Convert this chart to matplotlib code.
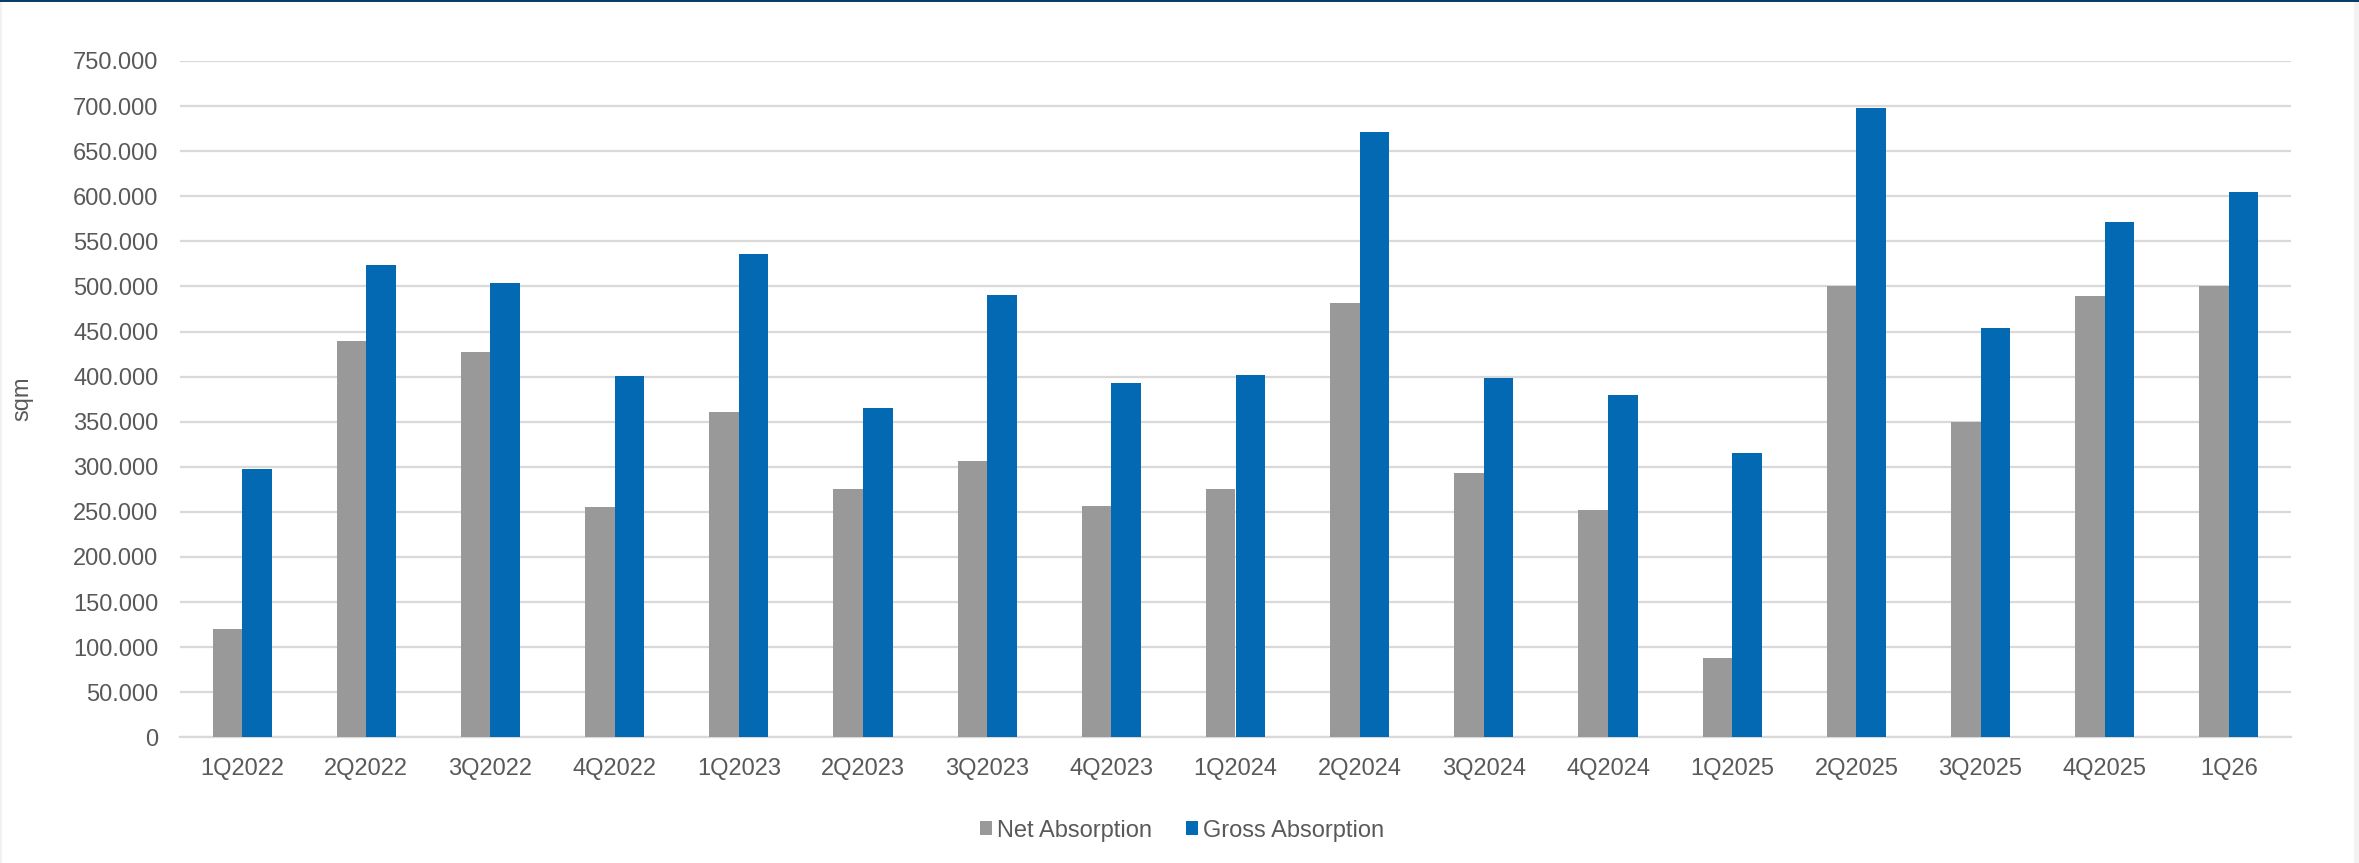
import matplotlib
matplotlib.use("Agg")
import matplotlib.pyplot as plt
from matplotlib.patches import Rectangle
from matplotlib.ticker import FuncFormatter, MultipleLocator
import numpy as np

plt.rcParams['font.family'] = ['Liberation Sans', 'DejaVu Sans']

# quarterly take-up, sqm
quarters = ['1Q2022', '2Q2022', '3Q2022', '4Q2022', '1Q2023', '2Q2023', '3Q2023',
            '4Q2023', '1Q2024', '2Q2024', '3Q2024', '4Q2024', '1Q2025', '2Q2025',
            '3Q2025', '4Q2025', '1Q26']
net_absorption = [120000, 440000, 427000, 255000, 361000, 275000, 306000, 257000,
                  275000, 482000, 293000, 252000, 88000, 501000, 350000, 489000, 500000]
gross_absorption = [298000, 524000, 504000, 401000, 536000, 365000, 491000, 393000,
                    402000, 671000, 398000, 380000, 315000, 698000, 454000, 571000, 605000]

GRAY = '#999999'
BLUE = '#0369B3'
TEXT = '#595959'
GRID = '#D9D9D9'

W, H = 2359, 863
fig = plt.figure(figsize=(W / 100, H / 100), dpi=100)
fig.patch.set_facecolor('white')

# frame: navy rule on top, light strips at the sides
fig.patches.append(Rectangle((0, 1 - 2.5 / H), 1, 2.5 / H, transform=fig.transFigure,
                             facecolor='#0B3C68', edgecolor='none', zorder=0))
fig.patches.append(Rectangle((1 - 5 / W, 0), 5 / W, 1 - 2.5 / H, transform=fig.transFigure,
                             facecolor='#F2F2F2', edgecolor='none', zorder=0))
fig.patches.append(Rectangle((0, 0), 1.5 / W, 1 - 2.5 / H, transform=fig.transFigure,
                             facecolor='#F2F2F2', edgecolor='none', zorder=0))

left, right = 180 / W, 2291 / W
bottom, top = 1 - 737.3 / H, 1 - 61 / H
ax = fig.add_axes([left, bottom, right - left, top - bottom])

x = np.arange(len(quarters))
bw = 0.238
ax.bar(x - bw / 2, net_absorption, width=bw, color=GRAY, zorder=3)
ax.bar(x + bw / 2, gross_absorption, width=bw, color=BLUE, zorder=3)

ax.set_xlim(-0.5, len(quarters) - 0.5)
ax.set_ylim(0, 750000)
ax.yaxis.set_major_locator(MultipleLocator(50000))
ax.yaxis.set_major_formatter(FuncFormatter(lambda v, p: f"{v:,.0f}".replace(',', '.')))
ax.set_xticks(x)
ax.set_xticklabels(quarters)

ax.grid(axis='y', color=GRID, linewidth=1.6, zorder=0)
ax.set_axisbelow(True)
for s in ['top', 'right', 'left']:
    ax.spines[s].set_visible(False)
ax.spines['bottom'].set_color(GRID)
ax.spines['bottom'].set_linewidth(1.6)
ax.tick_params(axis='both', length=0, labelsize=17, labelcolor=TEXT)
ax.tick_params(axis='y', pad=15.5)
ax.tick_params(axis='x', pad=15)

fig.text(22 / W, 1 - 399 / H, 'sqm', rotation=90, ha='center', va='center',
         fontsize=17, color=TEXT)

handles = [Rectangle((0, 0), 1, 1, facecolor=GRAY, edgecolor='none'),
           Rectangle((0, 0), 1, 1, facecolor=BLUE, edgecolor='none')]
leg = fig.legend(handles, ['Net Absorption', 'Gross Absorption'], loc='center',
                 bbox_to_anchor=(1182 / W, 1 - 830.5 / H), ncol=2, frameon=False,
                 fontsize=17, handlelength=0.52, handleheight=0.52,
                 handletextpad=0.21, columnspacing=1.45, borderpad=0)
for t in leg.get_texts():
    t.set_color(TEXT)

fig.savefig('out.png', dpi=100, facecolor=fig.get_facecolor())
